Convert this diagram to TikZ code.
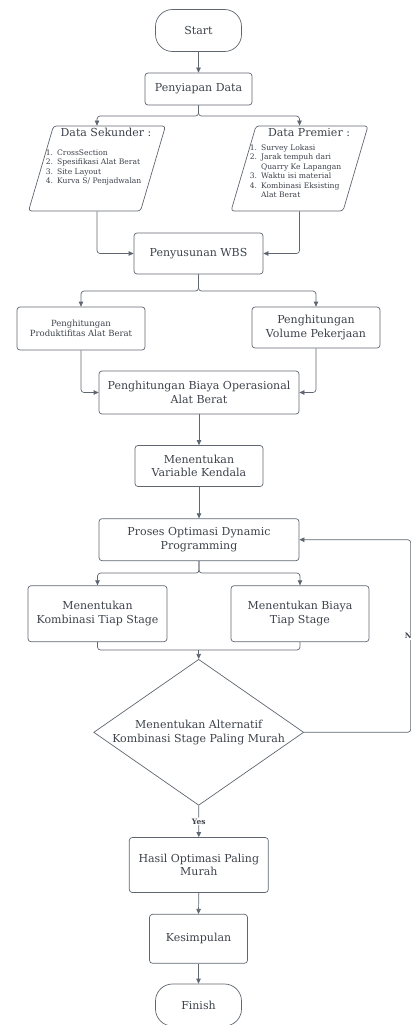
\documentclass[tikz,border=0pt]{standalone}
\usepackage{fontspec}
\setmainfont{DejaVu Serif}
\usepackage{tikz}
\usetikzlibrary{arrows.meta,positioning,shapes.geometric}
\usepackage{xcolor}
\definecolor{lineg}{HTML}{5F6670}
\definecolor{textg}{HTML}{3C414A}

\begin{document}
\begin{tikzpicture}[
  x=1pt, y=-1pt, line width=0.7pt,
  box/.style={
    rectangle, rounded corners=3pt, draw=lineg, text=textg,
    align=center, inner sep=2pt,
    font={\fontsize{11}{13.7}\selectfont}
  },
  term/.style={box, rounded corners=17pt, minimum width=86pt, minimum height=42pt},
  datain/.style={
    trapezium, trapezium left angle=74, trapezium right angle=106,
    trapezium stretches=true, draw=lineg, rounded corners=3pt,
    minimum width=137pt, minimum height=85pt
  },
  decide/.style={
    diamond, draw=lineg, text=textg, align=center, aspect=1.45,
    inner sep=0pt, minimum width=210pt, minimum height=146pt,
    font={\fontsize{11}{13.7}\selectfont}
  },
  titletxt/.style={text=textg, inner sep=0pt, anchor=base, font={\fontsize{11}{13.7}\selectfont}},
  listtxt/.style={text=textg, inner sep=0pt, anchor=north west, font={\fontsize{7.6}{9.5}\selectfont}},
  arr/.style={-{Triangle[length=5pt,width=4.5pt]}, draw=lineg, rounded corners=3pt},
  lnk/.style={draw=lineg, rounded corners=3pt},
  lbl/.style={fill=white, text=textg, inner sep=1pt, font={\fontsize{7.5}{8}\selectfont\bfseries}}
]
\useasboundingbox (0,0) rectangle (411,1025);

\node[term] (start) at (198.5,30.5) {Start};
\node[box, minimum width=107pt, minimum height=32pt] (prep) at (198.5,89) {Penyiapan Data};

\node[datain] (sek) at (97,168.5) {};
\node[titletxt] (sektitle) at (106,136) {Data Sekunder :};
\node[listtxt] (seklist) at (45.5,148.4) {%
  \begin{tabular}{@{}l@{\hspace{4pt}}l@{}}
  1. & CrossSection\\
  2. & Spesifikasi Alat Berat\\
  3. & Site Layout\\
  4. & Kurva S/ Penjadwalan
  \end{tabular}};

\node[datain] (prem) at (299.5,168.5) {};
\node[titletxt] (premtitle) at (309,136) {Data Premier :};
\node[listtxt] (premlist) at (249.5,143.4) {%
  \begin{tabular}{@{}l@{\hspace{4pt}}l@{}}
  1. & Survey Lokasi\\
  2. & Jarak tempuh dari\\
     & Quarry Ke Lapangan\\
  3. & Waktu isi material\\
  4. & Kombinasi Eksisting\\
     & Alat Berat
  \end{tabular}};

\node[box, minimum width=129pt, minimum height=41pt] (wbs) at (198.5,253.5) {Penyusunan WBS};

\node[box, minimum width=128pt, minimum height=43pt, font={\fontsize{8.5}{10.6}\selectfont}] (prod) at (81,328.5) {Penghitungan\\Produktifitas Alat Berat};
\node[box, minimum width=128pt, minimum height=41pt] (vol) at (316,327.5) {Penghitungan\\Volume Pekerjaan};

\node[box, minimum width=200pt, minimum height=43pt] (biaya) at (199,392.5) {Penghitungan Biaya Operasional\\Alat Berat};
\node[box, minimum width=128pt, minimum height=41pt] (kendala) at (199,466) {Menentukan\\Variable Kendala};
\node[box, minimum width=200pt, minimum height=42pt] (proses) at (199,539.7) {Proses Optimasi Dynamic\\Programming};

\node[box, minimum width=139pt, minimum height=56pt] (komb) at (97.5,613.7) {Menentukan\\Kombinasi Tiap Stage};
\node[box, minimum width=138pt, minimum height=56pt] (bstage) at (300,613.7) {Menentukan Biaya\\Tiap Stage};

\node[decide] (dec) at (198.7,732.3) {Menentukan Alternatif\\Kombinasi Stage Paling Murah};

\node[box, minimum width=139pt, minimum height=55pt] (hasil) at (198.8,865) {Hasil Optimasi Paling\\Murah};
\node[box, minimum width=98pt, minimum height=49pt] (simpul) at (198.5,938.8) {Kesimpulan};
\node[term] (finish) at (198.5,1005) {Finish};

\draw[arr] (start.south) -- (prep.north);
\draw[arr] (prep.south) -- ++(0,10.7) -| (sek.center |- sek.north);
\draw[arr] (prep.south) -- ++(0,10.7) -| (prem.center |- prem.north);
\draw[arr] (sek.center |- sek.south) |- (wbs.west);
\draw[arr] (prem.center |- prem.south) |- (wbs.east);

\draw[arr] (wbs.south) -- ++(0,16.7) -| (prod.north);
\draw[arr] (wbs.south) -- ++(0,16.7) -| (vol.north);
\draw[arr] (prod.south) |- (biaya.west);
\draw[arr] (vol.south) |- (biaya.east);

\draw[arr] (biaya.south) -- (kendala.north);
\draw[arr] (kendala.south) -- (proses.north);

\draw[arr] (proses.south) -- ++(0,12) -| (komb.north);
\draw[arr] (proses.south) -- ++(0,12) -| (bstage.north);
\coordinate (merge) at (dec.north |- 0,650);
\draw[lnk] (komb.south) |- (merge) -| (bstage.south);
\draw[arr] (merge) -- (dec.north);

\draw[arr] (dec.south) -- node[lbl] {Yes} (hasil.north);
\draw[arr] (dec.east) -- ++(106.7,0) |- node[lbl, pos=0.25] {No} (proses.east);

\draw[arr] (hasil.south) -- (simpul.north);
\draw[arr] (simpul.south) -- (finish.north);

\end{tikzpicture}
\end{document}
